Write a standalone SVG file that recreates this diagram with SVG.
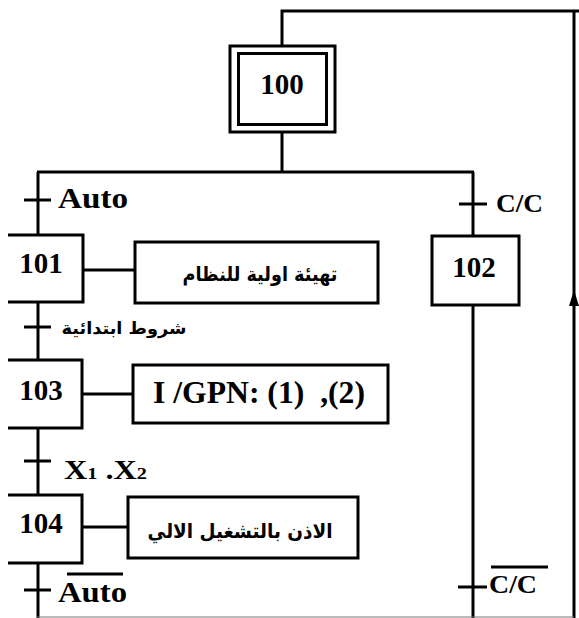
<svg xmlns="http://www.w3.org/2000/svg" width="579" height="618" viewBox="0 0 579 618">
<style>
.ln{stroke:#000;stroke-width:3;fill:none}
.bx{stroke:#000;stroke-width:3;fill:#fff}
.num{font-family:"Liberation Serif","Times New Roman",serif;font-weight:bold;font-size:29px;fill:#000;text-anchor:middle}
.lat{font-family:"Liberation Serif","Times New Roman",serif;font-weight:bold;fill:#000}
.ar{font-family:"DejaVu Sans","Noto Sans",sans-serif;font-weight:bold;fill:#000;text-anchor:middle}
</style>
<rect width="579" height="618" fill="#fff"/>
<g id="connectors">
<polyline class="ln" points="282,46 282,11 579,11"/>
<line class="ln" x1="574" y1="11" x2="574" y2="618"/>
<polygon points="574,290 569,306 579,306" fill="#000"/>
<line class="ln" x1="282" y1="132" x2="282" y2="172"/>
<line class="ln" x1="37" y1="172" x2="474" y2="172"/>
<line class="ln" x1="38" y1="172" x2="38" y2="235"/>
<line class="ln" x1="473" y1="172" x2="473" y2="236"/>
<line class="ln" x1="38" y1="302" x2="38" y2="360"/>
<line class="ln" x1="38" y1="428" x2="38" y2="495"/>
<line class="ln" x1="38" y1="563" x2="38" y2="618"/>
<line class="ln" x1="473" y1="305" x2="473" y2="618"/>
<line class="ln" x1="83" y1="270" x2="135" y2="270"/>
<line class="ln" x1="82" y1="394" x2="133" y2="394"/>
<line class="ln" x1="82" y1="527" x2="128" y2="527"/>
<line x1="37" y1="617" x2="574" y2="617" stroke="#777" stroke-width="1"/>
</g>
<g id="transitions">
<line class="ln" x1="24" y1="200" x2="51" y2="200"/>
<text class="lat" x="58" y="208" font-size="29" textLength="70" lengthAdjust="spacingAndGlyphs">Auto</text>
<line class="ln" x1="459" y1="204" x2="487" y2="204"/>
<text class="lat" x="496" y="212" font-size="26" textLength="47" lengthAdjust="spacingAndGlyphs">C/C</text>
<line class="ln" x1="24" y1="327" x2="51" y2="327"/>
<text class="ar" x="124" y="334" font-size="17" textLength="125" lengthAdjust="spacingAndGlyphs">شروط ابتدائية</text>
<line class="ln" x1="24" y1="461" x2="51" y2="461"/>
<text class="lat" x="64" y="479" font-size="27" textLength="83" lengthAdjust="spacingAndGlyphs">X<tspan font-size="17">1</tspan> .X<tspan font-size="17">2</tspan></text>
<line class="ln" x1="24" y1="590" x2="51" y2="590"/>
<text class="lat" x="58" y="602" font-size="29" textLength="69" lengthAdjust="spacingAndGlyphs">Auto</text>
<line class="ln" x1="67" y1="574" x2="123" y2="574"/>
<line class="ln" x1="458" y1="587" x2="487" y2="587"/>
<text class="lat" x="489" y="593" font-size="26" textLength="48" lengthAdjust="spacingAndGlyphs">C/C</text>
<line class="ln" x1="491" y1="567" x2="548" y2="567"/>
</g>
<g id="step100">
<rect class="bx" x="230" y="46" width="105" height="86"/>
<rect class="bx" x="238.5" y="53.5" width="88" height="71"/>
<text class="num" x="282" y="94">100</text>
</g>
<g id="step101">
<path class="bx" d="M8,235 H83 V302 H8"/>
<text class="num" x="41" y="273">101</text>
</g>
<g id="action101">
<rect class="bx" x="135" y="242" width="243" height="61"/>
<text class="ar" x="260" y="281" font-size="20" textLength="155" lengthAdjust="spacingAndGlyphs">تهيئة اولية للنظام</text>
</g>
<g id="step102">
<rect class="bx" x="432" y="236" width="87" height="69"/>
<text class="num" x="474" y="277">102</text>
</g>
<g id="step103">
<path class="bx" d="M8,360 H82 V428 H8"/>
<text class="num" x="41" y="400">103</text>
</g>
<g id="action103">
<rect class="bx" x="133" y="365" width="255" height="58"/>
<text class="lat" x="153" y="403" font-size="31" textLength="212" lengthAdjust="spacingAndGlyphs" xml:space="preserve">I /GPN: (1)  ,(2)</text>
</g>
<g id="step104">
<path class="bx" d="M8,495 H82 V563 H8"/>
<text class="num" x="41" y="533">104</text>
</g>
<g id="action104">
<rect class="bx" x="128" y="497" width="230" height="61"/>
<text class="ar" x="240" y="538" font-size="20" textLength="185" lengthAdjust="spacingAndGlyphs">الاذن بالتشغيل الالي</text>
</g>
</svg>
